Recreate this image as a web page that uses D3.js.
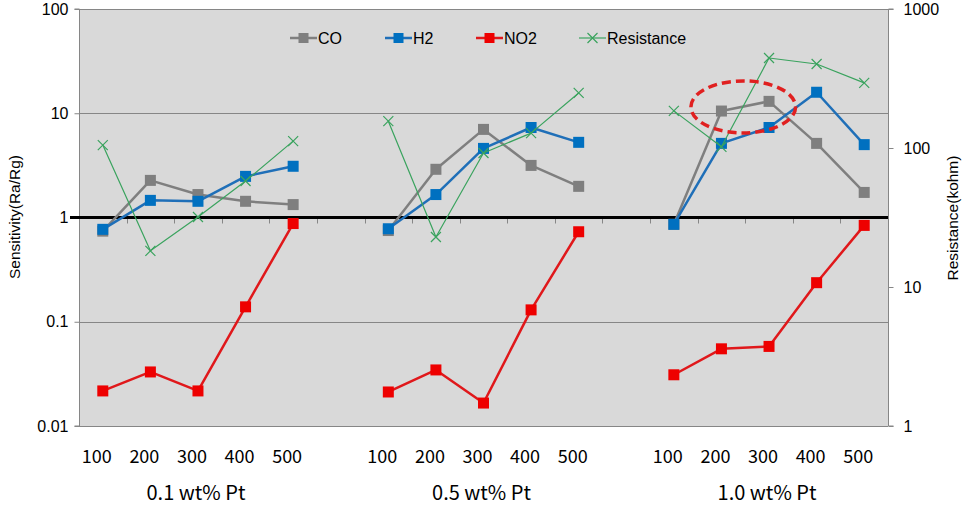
<!DOCTYPE html>
<html>
<head>
<meta charset="utf-8">
<script src="https://cdn.jsdelivr.net/npm/d3@7"></script>
<style>
  html, body { margin: 0; padding: 0; background: #ffffff; }
  svg { display: block; }
</style>
</head>
<body>
<svg id="chart" width="969" height="511"></svg>
<script>
// ---------------- DATA ----------------
const groups = ["0.1 wt% Pt", "0.5 wt% Pt", "1.0 wt% Pt"];
const temps = ["100", "200", "300", "400", "500"];

const coValues = [
  [0.74, 2.27, 1.66, 1.43, 1.33],
  [0.75, 2.9, 7.0, 3.16, 1.99],
  [0.86, 10.5, 13.0, 5.14, 1.74]
];
const h2Values = [
  [0.77, 1.46, 1.43, 2.48, 3.1],
  [0.78, 1.66, 4.6, 7.3, 5.26],
  [0.86, 5.14, 7.3, 15.9, 5.0]
];
const no2Values = [
  [0.0217, 0.033, 0.0217, 0.139, 0.875],
  [0.0212, 0.0345, 0.0166, 0.130, 0.73],
  [0.031, 0.055, 0.058, 0.237, 0.84]
];
const resistanceValues = [
  [105, 18.2, 31.9, 57.9, 112],
  [156, 22.9, 92, 128, 249],
  [185, 102, 444, 402, 294]
];

const leftTickValues = [0.01, 0.1, 1, 10, 100];
const leftTickLabels = ["0.01", "0.1", "1", "10", "100"];
const rightTickValues = [1, 10, 100, 1000];
const rightTickLabels = ["1", "10", "100", "1000"];

const seriesNames = ["CO", "H2", "NO2", "Resistance"];
const leftAxisTitle = "Sensitivity(Ra/Rg)";
const rightAxisTitle = "Resistance(kohm)";

// annotation ellipse (data coordinates: category slot index, sensitivity value)
const ellipseCenter = { slot: 13.5, value: 11.5 };

// ---------------- BUILD ----------------
const slots = [];
groups.forEach((g, gi) => {
  temps.forEach((t, ti) => slots.push({ key: g + "|" + t, group: gi, temp: t, ti: ti }));
  if (gi < groups.length - 1) slots.push({ key: "gap" + gi, group: null });
});

function seriesData(values) {
  return slots.map(s => s.group === null ? { key: s.key, v: null } : { key: s.key, v: values[s.group][s.ti] });
}

const svg = d3.select("#chart");
const pL = 79, pR = 888, pT = 9, pB = 426;

const x = d3.scaleBand().domain(slots.map(s => s.key)).range([pL, pR]).padding(0);
const y = d3.scaleLog().domain([0.01, 100]).range([pB, pT]);
const yR = d3.scaleLog().domain([1, 1000]).range([pB, pT]);
const cx = k => x(k) + x.bandwidth() / 2;

// plot background
svg.append("rect").attr("x", pL).attr("y", pT).attr("width", pR - pL).attr("height", pB - pT)
  .attr("fill", "#d9d9d9");

// gridlines
const gridColor = "#868686";
svg.append("g").selectAll("line").data(leftTickValues.filter(v => v !== 1)).join("line")
  .attr("x1", pL).attr("x2", pR)
  .attr("y1", d => Math.round(y(d)) + 0.5).attr("y2", d => Math.round(y(d)) + 0.5)
  .attr("stroke", gridColor).attr("stroke-width", 1);

// left axis
const leftAxis = d3.axisLeft(y).tickValues(leftTickValues)
  .tickFormat((d, i) => leftTickLabels[i]).tickSize(5).tickPadding(6);
const gL = svg.append("g").attr("transform", `translate(${pL + 0.5},0)`).call(leftAxis);
gL.select(".domain").attr("stroke", gridColor).attr("d", `M-5,${pT}H0V${pB}H-5`);
gL.selectAll(".tick line").attr("stroke", gridColor);
gL.selectAll(".tick text").attr("font-family", "Liberation Sans, Arial, sans-serif")
  .attr("font-size", 16).attr("fill", "#000");

// right axis
const rightAxis = d3.axisRight(yR).tickValues(rightTickValues)
  .tickFormat((d, i) => rightTickLabels[i]).tickSize(5).tickPadding(10);
const gR = svg.append("g").attr("transform", `translate(${pR + 0.5},0)`).call(rightAxis);
gR.select(".domain").attr("stroke", gridColor).attr("d", `M5,${pT}H0V${pB}H5`);
gR.selectAll(".tick line").attr("stroke", gridColor);
gR.selectAll(".tick text").attr("font-family", "Liberation Sans, Arial, sans-serif")
  .attr("font-size", 16).attr("fill", "#000");

// x axis at value 1 (black thick line) with category boundary ticks
const y1 = y(1);
const boundaries = slots.map(s => x(s.key)).concat([pR]).slice(1);
svg.append("g").selectAll("line").data(boundaries).join("line")
  .attr("x1", d => Math.round(d) + 0.5).attr("x2", d => Math.round(d) + 0.5)
  .attr("y1", y1).attr("y2", y1 + 6).attr("stroke", gridColor).attr("stroke-width", 1);
svg.append("line").attr("x1", pL - 9).attr("x2", pR).attr("y1", y1).attr("y2", y1)
  .attr("stroke", "#000").attr("stroke-width", 3);

// x tick labels
const realSlots = slots.filter(s => s.group !== null);
svg.append("g").selectAll("text").data(realSlots).join("text")
  .attr("x", d => cx(d.key) - 6).attr("y", 463)
  .attr("text-anchor", "middle")
  .attr("font-family", "Noto Sans CJK KR, sans-serif").attr("font-size", 18).attr("fill", "#000")
  .text(d => d.temp);

// group labels
svg.append("g").selectAll("text").data(groups).join("text")
  .attr("x", (g, i) => cx(g + "|" + temps[2]) - 2).attr("y", 500)
  .attr("text-anchor", "middle")
  .attr("font-family", "Noto Sans CJK KR, sans-serif").attr("font-size", 20).attr("fill", "#000")
  .text(d => d);

// axis titles
svg.append("text").attr("transform", `translate(20,217) rotate(-90)`)
  .attr("text-anchor", "middle").attr("font-family", "Liberation Sans, Arial, sans-serif")
  .attr("font-size", 15.5).attr("fill", "#000").text(leftAxisTitle);
svg.append("text").attr("transform", `translate(958,218) rotate(-90)`)
  .attr("text-anchor", "middle").attr("font-family", "Liberation Sans, Arial, sans-serif")
  .attr("font-size", 15.5).attr("fill", "#000").text(rightAxisTitle);

// series
const series = [
  { name: seriesNames[0], data: seriesData(coValues), scale: y, color: "#7f7f7f", width: 2.5, marker: "square", mcolor: "#7f7f7f" },
  { name: seriesNames[1], data: seriesData(h2Values), scale: y, color: "#1f6fb8", width: 2.5, marker: "square", mcolor: "#0070c0" },
  { name: seriesNames[2], data: seriesData(no2Values), scale: y, color: "#e0181b", width: 2.5, marker: "square", mcolor: "#ee0000" },
  { name: seriesNames[3], data: seriesData(resistanceValues), scale: yR, color: "#3aa35e", width: 1.2, marker: "x", mcolor: "#3aa35e" }
];

series.forEach(s => {
  const line = d3.line().defined(d => d.v !== null).x(d => cx(d.key)).y(d => s.scale(d.v));
  svg.append("path").datum(s.data).attr("d", line).attr("fill", "none")
    .attr("stroke", s.color).attr("stroke-width", s.width).attr("stroke-linejoin", "round");
  const pts = s.data.filter(d => d.v !== null);
  if (s.marker === "square") {
    svg.append("g").selectAll("rect").data(pts).join("rect")
      .attr("x", d => cx(d.key) - 5.5).attr("y", d => s.scale(d.v) - 5.5)
      .attr("width", 11).attr("height", 11).attr("fill", s.mcolor);
  } else {
    svg.append("g").selectAll("path").data(pts).join("path")
      .attr("d", d => { const px = cx(d.key), py = s.scale(d.v), r = 5; return `M${px - r},${py - r}L${px + r},${py + r}M${px - r},${py + r}L${px + r},${py - r}`; })
      .attr("stroke", s.mcolor).attr("stroke-width", 1.2).attr("fill", "none");
  }
});

// annotation ellipse
const bw = x.bandwidth();
svg.append("ellipse")
  .attr("cx", pL + bw * (ellipseCenter.slot + 0.5) - 2)
  .attr("cy", y(ellipseCenter.value))
  .attr("rx", bw * 1.1).attr("ry", 26)
  .attr("fill", "none").attr("stroke", "#e02020").attr("stroke-width", 3.5)
  .attr("stroke-dasharray", "9,5");

// legend
const legendItems = [
  { s: series[0], x: 290 },
  { s: series[1], x: 385 },
  { s: series[2], x: 476 },
  { s: series[3], x: 579 }
];
const lg = svg.append("g");
legendItems.forEach(it => {
  const ly = 38, lw = 27;
  lg.append("line").attr("x1", it.x).attr("x2", it.x + lw).attr("y1", ly).attr("y2", ly)
    .attr("stroke", it.s.color).attr("stroke-width", it.s.width);
  const mx = it.x + lw / 2;
  if (it.s.marker === "square") {
    lg.append("rect").attr("x", mx - 5).attr("y", ly - 5).attr("width", 10).attr("height", 10).attr("fill", it.s.mcolor);
  } else {
    lg.append("path").attr("d", `M${mx - 5},${ly - 5}L${mx + 5},${ly + 5}M${mx - 5},${ly + 5}L${mx + 5},${ly - 5}`)
      .attr("stroke", it.s.mcolor).attr("stroke-width", 1.2);
  }
  lg.append("text").attr("x", it.x + lw + 1).attr("y", ly + 6)
    .attr("font-family", "Liberation Sans, Arial, sans-serif").attr("font-size", 16).attr("fill", "#000")
    .text(it.s.name);
});
</script>
</body>
</html>
